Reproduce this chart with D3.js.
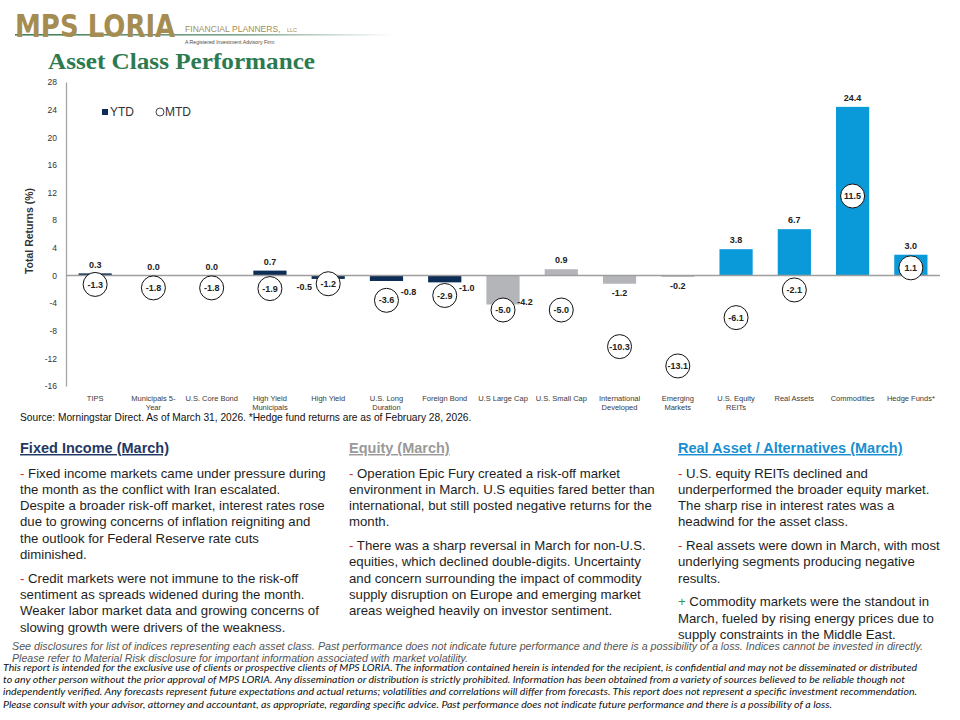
<!DOCTYPE html>
<html><head><meta charset="utf-8">
<script src="https://cdn.jsdelivr.net/npm/d3@7"></script>
<style>
html,body{margin:0;padding:0;background:#fff;}
svg{display:block;font-family:"Liberation Sans",Arial,sans-serif;}
</style></head>
<body>
<svg id="chart" width="960" height="720"></svg>
<script>
// ---------- DATA ----------
const categories = ["TIPS","Municipals 5-\nYear","U.S. Core Bond","High Yield\nMunicipals","High Yield","U.S. Long\nDuration","Foreign Bond","U.S Large Cap","U.S. Small Cap","International\nDeveloped","Emerging\nMarkets","U.S. Equity\nREITs","Real Assets","Commodities","Hedge Funds*"];
const groups = ["fixed","fixed","fixed","fixed","fixed","fixed","fixed","equity","equity","equity","equity","real","real","real","real"];
const ytd = [0.3,0.0,0.0,0.7,-0.5,-0.8,-1.0,-4.2,0.9,-1.2,-0.2,3.8,6.7,24.4,3.0];
const mtd = [-1.3,-1.8,-1.8,-1.9,-1.2,-3.6,-2.9,-5.0,-5.0,-10.3,-13.1,-6.1,-2.1,11.5,1.1];
const ytdLabelSide = ["above","above","above","above","left","right","right","right","above","below","below","above","above","above","above"];
const yTicks = [-16,-12,-8,-4,0,4,8,12,16,20,24,28];
const seriesNames = ["YTD","MTD"];
const sourceNote = "Source: Morningstar Direct. As of March 31, 2026. *Hedge fund returns are as of February 28, 2026.";

const columns = [
  {title:"Fixed Income (March)", color:"#1f3864", paras:[
    {sign:"-", lines:["Fixed income markets came under pressure during","the month as the conflict with Iran escalated.","Despite a broader risk-off market, interest rates rose","due to growing concerns of inflation reigniting and","the outlook for Federal Reserve rate cuts","diminished."]},
    {sign:"-", lines:["Credit markets were not immune to the risk-off","sentiment as spreads widened during the month.","Weaker labor market data and growing concerns of","slowing growth were drivers of the weakness."]}
  ]},
  {title:"Equity (March)", color:"#9a9a9a", paras:[
    {sign:"-", lines:["Operation Epic Fury created a risk-off market","environment in March. U.S equities fared better than","international, but still posted negative returns for the","month."]},
    {sign:"-", lines:["There was a sharp reversal in March for non-U.S.","equities, which declined double-digits. Uncertainty","and concern surrounding the impact of commodity","supply disruption on Europe and emerging market","areas weighed heavily on investor sentiment."]}
  ]},
  {title:"Real Asset / Alternatives (March)", color:"#1a8fd0", paras:[
    {sign:"-", lines:["U.S. equity REITs declined and","underperformed the broader equity market.","The sharp rise in interest rates was a","headwind for the asset class."]},
    {sign:"-", lines:["Real assets were down in March, with most","underlying segments producing negative","results."]},
    {sign:"+", lines:["Commodity markets were the standout in","March, fueled by rising energy prices due to","supply constraints in the Middle East."]}
  ]}
];
const footerGray = ["See disclosures for list of indices representing each asset class. Past performance does not indicate future performance and there is a possibility of a loss. Indices cannot be invested in directly.","Please refer to Material Risk disclosure for important information associated with market volatility."];
const footerBlack = ["This report is intended for the exclusive use of clients or prospective clients of MPS LORIA. The information contained herein is intended for the recipient, is confidential and may not be disseminated or distributed","to any other person without the prior approval of MPS LORIA. Any dissemination or distribution is strictly prohibited. Information has been obtained from a variety of sources believed to be reliable though not","independently verified. Any forecasts represent future expectations and actual returns; volatilities and correlations will differ from forecasts. This report does not represent a specific investment recommendation.","Please consult with your advisor, attorney and accountant, as appropriate, regarding specific advice. Past performance does not indicate future performance and there is a possibility of a loss."];

// ---------- STYLE ----------
const groupColor = {fixed:"#0c2d55", equity:"#b3b5b8", real:"#0a9ad9"};
const footerGrayWidths = [911, 456];
const footerBlackWidths = [914, 902, 914, 829];
const loc = d3.formatLocale({decimal:".", thousands:",", grouping:[3], currency:["$",""], minus:"-"});
const f1 = loc.format(".1f"), fd = loc.format("d");
const svg = d3.select("#chart");

// ---------- HEADER / LOGO ----------
const defs = svg.append("defs");
const grad = defs.append("linearGradient").attr("id","lineGrad").attr("x1","0").attr("x2","1");
grad.append("stop").attr("offset","0").attr("stop-color","#3f7f5a");
grad.append("stop").attr("offset","0.6").attr("stop-color","#7fa58e");
grad.append("stop").attr("offset","1").attr("stop-color","#ffffff");
svg.append("rect").attr("x",15).attr("y",34).attr("width",380).attr("height",1.6).attr("fill","url(#lineGrad)");
svg.append("text").attr("transform","translate(15,37) scale(1,1.2)")
  .style("font-family","'DejaVu Sans',sans-serif").style("font-weight","bold")
  .style("font-size","26px").attr("fill","#a58d52").text("MPS LORIA");
svg.append("text").attr("transform","translate(185,32) scale(1,1.1)")
  .style("font-size","8.6px").attr("fill","#a58d52").text("FINANCIAL PLANNERS,");
svg.append("text").attr("x",287).attr("y",32).style("font-size","5.5px").attr("fill","#a58d52").text("LLC");
svg.append("text").attr("x",185).attr("y",44)
  .style("font-size","5.2px").attr("fill","#5a4a30").text("A Registered Investment Advisory Firm");
svg.append("text").attr("x",48).attr("y",69).attr("textLength",267).attr("lengthAdjust","spacingAndGlyphs")
  .style("font-family","'Liberation Serif','DejaVu Serif',serif").style("font-weight","bold")
  .style("font-size","23px").attr("fill","#2c7a50").text("Asset Class Performance");

// ---------- CHART ----------
const x = d3.scaleBand().domain(categories).range([66,940]).paddingInner(0.43).paddingOuter(0.215);
const y = d3.scaleLinear().domain([-16,28]).range([386,82]);

const yAxis = svg.append("g").attr("transform","translate(66,0)")
  .call(d3.axisLeft(y).tickValues(yTicks).tickSize(0).tickPadding(9).tickFormat(fd));
yAxis.select(".domain").attr("stroke","#a6a6a6").attr("stroke-width",1.3);
yAxis.selectAll("text").style("font-size","8.5px").style("font-family","'Liberation Sans',Arial,sans-serif").attr("fill","#333");

svg.append("text").attr("transform","translate(33,231) rotate(-90)").attr("text-anchor","middle")
  .style("font-size","10.5px").style("font-weight","bold").attr("fill","#333").text("Total Returns (%)");

// bars
svg.append("g").selectAll("rect").data(categories).join("rect")
  .attr("x",d=>x(d)).attr("width",x.bandwidth())
  .attr("y",(d,i)=>y(Math.max(0,ytd[i])))
  .attr("height",(d,i)=>Math.abs(y(ytd[i])-y(0)))
  .attr("fill",(d,i)=>groupColor[groups[i]]);

// zero line
svg.append("line").attr("x1",66).attr("x2",940).attr("y1",y(0)).attr("y2",y(0))
  .attr("stroke","#9e9e9e").attr("stroke-width",1.6);

// MTD circles
const r = 12;
const mg = svg.append("g").selectAll("g").data(categories).join("g")
  .attr("transform",(d,i)=>`translate(${x(d)+x.bandwidth()/2},${y(mtd[i])})`);
mg.append("circle").attr("r",r).attr("fill","#fff").attr("stroke","#111").attr("stroke-width",1);
mg.append("text").attr("text-anchor","middle").attr("dy","0.35em")
  .style("font-size","9px").style("font-weight","bold").attr("fill","#222")
  .text((d,i)=>f1(mtd[i]));

// YTD labels
svg.append("g").selectAll("text").data(categories).join("text")
  .attr("text-anchor","middle").attr("dy","0.35em")
  .style("font-size","9px").style("font-weight","bold").attr("fill","#222")
  .attr("x",(d,i)=>{
    const cx = x(d)+x.bandwidth()/2;
    if (ytdLabelSide[i]==="right") return cx + r + 10;
    if (ytdLabelSide[i]==="left") return cx - r - 12;
    return cx;
  })
  .attr("y",(d,i)=>{
    const side = ytdLabelSide[i];
    if (side==="above") return y(Math.max(0,ytd[i])) - 9;
    if (side==="below") return y(ytd[i]) + 9;
    if (side==="left") return y(mtd[i]) + 3;
    return y(mtd[i]) - 8;
  })
  .text((d,i)=>f1(ytd[i]));

// legend
const lg = svg.append("g");
lg.append("rect").attr("x",102).attr("y",109).attr("width",6).attr("height",6).attr("fill","#0c2d55");
lg.append("text").attr("x",110).attr("y",116).style("font-size","12px").attr("fill","#333").text(seriesNames[0]);
lg.append("circle").attr("cx",160).attr("cy",112).attr("r",4).attr("fill","#fff").attr("stroke","#333").attr("stroke-width",0.9);
lg.append("text").attr("x",165).attr("y",116).style("font-size","12px").attr("fill","#333").text(seriesNames[1]);

// category labels
const cl = svg.append("g").selectAll("text").data(categories).join("text")
  .attr("text-anchor","middle").style("font-size","7.5px").attr("fill","#3a3a3a")
  .attr("x",d=>x(d)+x.bandwidth()/2).attr("y",401);
cl.selectAll("tspan").data(d=>d.split("\n")).join("tspan")
  .attr("x",function(){return this.parentNode.getAttribute("x");})
  .attr("dy",(d,i)=>i===0?0:9).text(d=>d);

svg.append("text").attr("x",20).attr("y",421).style("font-size","10.2px").attr("fill","#111").text(sourceNote);

// ---------- TEXT COLUMNS ----------
const colX = [20,349,678];
columns.forEach((c,ci)=>{
  const g = svg.append("g");
  g.append("text").attr("x",colX[ci]).attr("y",453).style("font-size","14.5px").style("font-weight","bold")
    .style("text-decoration","underline").attr("fill",c.color).text(c.title);
  let yy = 477.5;
  c.paras.forEach(p=>{
    p.lines.forEach((ln,li)=>{
      const t = g.append("text").attr("x",colX[ci]).attr("y",yy).style("font-size","13.2px").attr("fill","#1e1e1e");
      if (li===0){
        t.append("tspan").attr("fill",p.sign==="+"?"#2e9e4a":"#d0312d").text(p.sign);
        t.append("tspan").text(" "+ln);
      } else t.text(ln);
      yy += 16.3;
    });
    yy += 7.3;
  });
});

// ---------- FOOTER ----------
footerGray.forEach((s,i)=>{
  svg.append("text").attr("x",12).attr("y",649.5+i*12).attr("textLength",footerGrayWidths[i]).attr("lengthAdjust","spacingAndGlyphs")
    .style("font-size","10px").style("font-style","italic").attr("fill","#555").text(s);
});
footerBlack.forEach((s,i)=>{
  svg.append("text").attr("x",3).attr("y",671+i*12.2).attr("textLength",footerBlackWidths[i]).attr("lengthAdjust","spacingAndGlyphs")
    .style("font-family","Lato,'Open Sans',sans-serif")
    .style("font-size","9.6px").style("font-style","italic").attr("fill","#111").text(s);
});
</script>
</body></html>
